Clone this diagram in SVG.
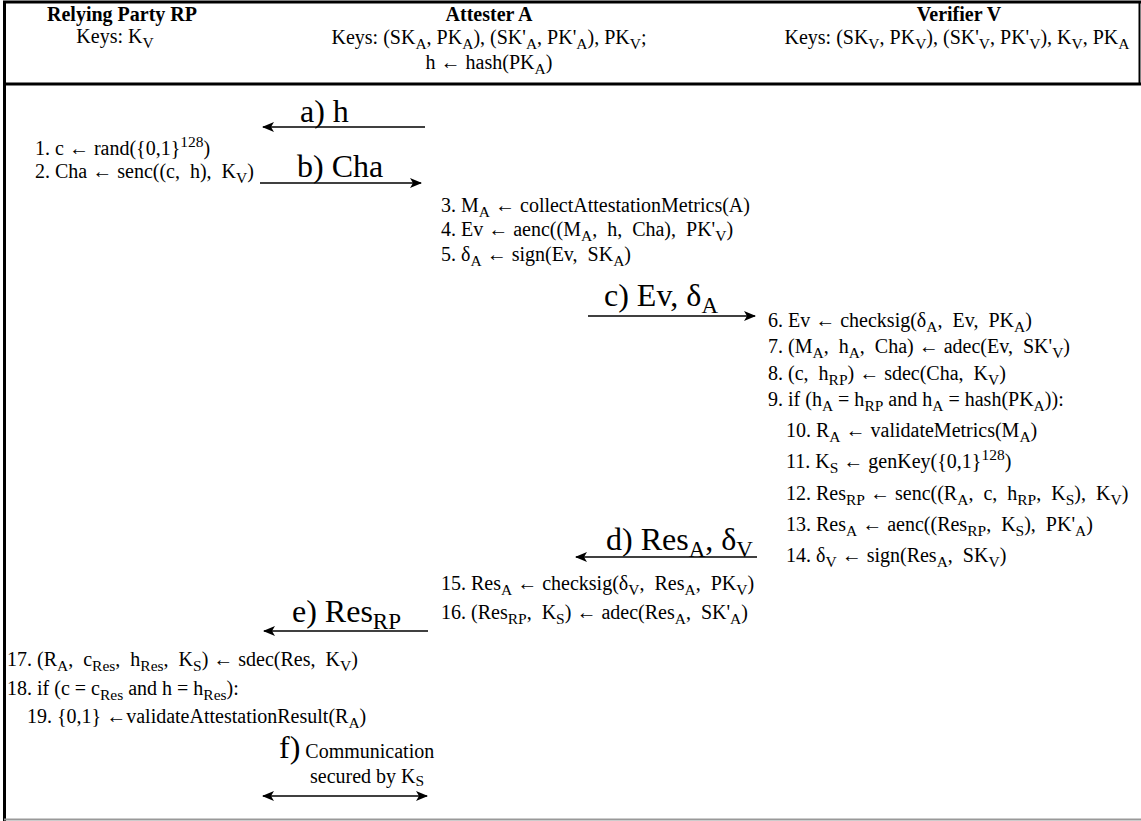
<svg xmlns="http://www.w3.org/2000/svg" width="1141" height="821" viewBox="0 0 1141 821" xml:space="preserve">
<style>
text{font-family:"Liberation Serif","Times New Roman",serif;font-size:20px;fill:#000;white-space:pre}
.b{font-weight:bold}
.s{font-size:15.5px}
.l{font-size:32px}
.ls{font-size:23px}
.ln{stroke:#000;stroke-width:1.6;fill:none}
</style>
<defs>
<marker id="ah" viewBox="0 0 12 10" refX="11" refY="5" markerWidth="12" markerHeight="10" markerUnits="userSpaceOnUse" orient="auto-start-reverse"><path d="M0,0 L12,5 L0,10 L3,5 z" fill="#000"/></marker>
</defs>
<rect width="1141" height="821" fill="#fff"/>
<g id="frame">
<line x1="3" y1="2" x2="1141" y2="2" stroke="#000" stroke-width="3"/>
<line x1="3" y1="84" x2="1141" y2="84" stroke="#000" stroke-width="3"/>
<line x1="1139.5" y1="1" x2="1139.5" y2="85" stroke="#000" stroke-width="2"/>
<line x1="4.5" y1="1" x2="4.5" y2="821" stroke="#000" stroke-width="3"/>
<line x1="4" y1="819.5" x2="1141" y2="819.5" stroke="#999" stroke-width="2"/>
</g>
<g id="rp-header">
<text class="b" x="122" y="21" text-anchor="middle">Relying Party RP</text>
<text x="115" y="43" text-anchor="middle">Keys: K<tspan class="s" dy="5">V</tspan></text>
</g>
<g id="a-header">
<text class="b" x="489" y="21" text-anchor="middle">Attester A</text>
<text x="489" y="44" text-anchor="middle">Keys: (SK<tspan class="s" dy="5">A</tspan><tspan dy="-5">, PK</tspan><tspan class="s" dy="5">A</tspan><tspan dy="-5">), (SK'</tspan><tspan class="s" dy="5">A</tspan><tspan dy="-5">, PK'</tspan><tspan class="s" dy="5">A</tspan><tspan dy="-5">), PK</tspan><tspan class="s" dy="5">V</tspan><tspan dy="-5">;</tspan></text>
<text x="489" y="69" text-anchor="middle">h ← hash(PK<tspan class="s" dy="5">A</tspan><tspan dy="-5">)</tspan></text>
</g>
<g id="v-header">
<text class="b" x="959" y="21" text-anchor="middle">Verifier V</text>
<text x="957" y="44" text-anchor="middle">Keys: (SK<tspan class="s" dy="5">V</tspan><tspan dy="-5">, PK</tspan><tspan class="s" dy="5">V</tspan><tspan dy="-5">), (SK'</tspan><tspan class="s" dy="5">V</tspan><tspan dy="-5">, PK'</tspan><tspan class="s" dy="5">V</tspan><tspan dy="-5">), K</tspan><tspan class="s" dy="5">V</tspan><tspan dy="-5">, PK</tspan><tspan class="s" dy="5">A</tspan></text>
</g>
<g id="connectors">
<line class="ln" x1="425" y1="127" x2="263" y2="127" marker-end="url(#ah)"/>
<line class="ln" x1="260" y1="183" x2="421" y2="183" marker-end="url(#ah)"/>
<line class="ln" x1="588" y1="316" x2="755" y2="316" marker-end="url(#ah)"/>
<line class="ln" x1="757" y1="557" x2="576" y2="557" marker-end="url(#ah)"/>
<line class="ln" x1="428" y1="631" x2="264" y2="631" marker-end="url(#ah)"/>
<line class="ln" x1="263" y1="796" x2="427" y2="796" marker-start="url(#ah)" marker-end="url(#ah)"/>
</g>
<g id="labels">
<text class="l" x="300" y="122">a) h</text>
<text class="l" x="297" y="177">b) Cha</text>
<text class="l" x="604" y="306">c) Ev, δ<tspan class="ls" dy="7">A</tspan></text>
<text class="l" x="606" y="550">d) Res<tspan class="ls" dy="7">A</tspan><tspan dy="-7">, δ</tspan><tspan class="ls" dy="7">V</tspan></text>
<text class="l" x="292" y="622">e) Res<tspan class="ls" dy="7">RP</tspan></text>
<text x="279" y="758"><tspan class="l">f)</tspan><tspan> Communication</tspan></text>
<text x="310" y="783">secured by K<tspan class="s" dy="3">S</tspan></text>
</g>
<g id="rp-steps">
<text x="35" y="155">1. c ← rand({0,1}<tspan class="s" dy="-8">128</tspan><tspan dy="8">)</tspan></text>
<text x="35" y="178">2. Cha ← senc((c,  h),  K<tspan class="s" dy="5">V</tspan><tspan dy="-5">)</tspan></text>
<text x="7" y="666">17. (R<tspan class="s" dy="5">A</tspan><tspan dy="-5">,  c</tspan><tspan class="s" dy="5">Res</tspan><tspan dy="-5">,  h</tspan><tspan class="s" dy="5">Res</tspan><tspan dy="-5">,  K</tspan><tspan class="s" dy="5">S</tspan><tspan dy="-5">) ← sdec(Res,  K</tspan><tspan class="s" dy="5">V</tspan><tspan dy="-5">)</tspan></text>
<text x="7" y="695">18. if (c = c<tspan class="s" dy="5">Res</tspan><tspan dy="-5"> and h = h</tspan><tspan class="s" dy="5">Res</tspan><tspan dy="-5">):</tspan></text>
<text x="27" y="723">19. {0,1} ←validateAttestationResult(R<tspan class="s" dy="5">A</tspan><tspan dy="-5">)</tspan></text>
</g>
<g id="a-steps">
<text x="441" y="212">3. M<tspan class="s" dy="5">A</tspan><tspan dy="-5"> ← collectAttestationMetrics(A)</tspan></text>
<text x="441" y="236">4. Ev ← aenc((M<tspan class="s" dy="5">A</tspan><tspan dy="-5">,  h,  Cha),  PK'</tspan><tspan class="s" dy="5">V</tspan><tspan dy="-5">)</tspan></text>
<text x="441" y="261">5. δ<tspan class="s" dy="5">A</tspan><tspan dy="-5"> ← sign(Ev,  SK</tspan><tspan class="s" dy="5">A</tspan><tspan dy="-5">)</tspan></text>
<text x="441" y="590">15. Res<tspan class="s" dy="5">A</tspan><tspan dy="-5"> ← checksig(δ</tspan><tspan class="s" dy="5">V</tspan><tspan dy="-5">,  Res</tspan><tspan class="s" dy="5">A</tspan><tspan dy="-5">,  PK</tspan><tspan class="s" dy="5">V</tspan><tspan dy="-5">)</tspan></text>
<text x="441" y="619">16. (Res<tspan class="s" dy="5">RP</tspan><tspan dy="-5">,  K</tspan><tspan class="s" dy="5">S</tspan><tspan dy="-5">) ← adec(Res</tspan><tspan class="s" dy="5">A</tspan><tspan dy="-5">,  SK'</tspan><tspan class="s" dy="5">A</tspan><tspan dy="-5">)</tspan></text>
</g>
<g id="v-steps">
<text x="768" y="327">6. Ev ← checksig(δ<tspan class="s" dy="5">A</tspan><tspan dy="-5">,  Ev,  PK</tspan><tspan class="s" dy="5">A</tspan><tspan dy="-5">)</tspan></text>
<text x="768" y="353">7. (M<tspan class="s" dy="5">A</tspan><tspan dy="-5">,  h</tspan><tspan class="s" dy="5">A</tspan><tspan dy="-5">,  Cha) ← adec(Ev,  SK'</tspan><tspan class="s" dy="5">V</tspan><tspan dy="-5">)</tspan></text>
<text x="768" y="380">8. (c,  h<tspan class="s" dy="5">RP</tspan><tspan dy="-5">) ← sdec(Cha,  K</tspan><tspan class="s" dy="5">V</tspan><tspan dy="-5">)</tspan></text>
<text x="768" y="406">9. if (h<tspan class="s" dy="5">A</tspan><tspan dy="-5"> = h</tspan><tspan class="s" dy="5">RP</tspan><tspan dy="-5"> and h</tspan><tspan class="s" dy="5">A</tspan><tspan dy="-5"> = hash(PK</tspan><tspan class="s" dy="5">A</tspan><tspan dy="-5">)):</tspan></text>
<text x="786" y="437">10. R<tspan class="s" dy="5">A</tspan><tspan dy="-5"> ← validateMetrics(M</tspan><tspan class="s" dy="5">A</tspan><tspan dy="-5">)</tspan></text>
<text x="786" y="468">11. K<tspan class="s" dy="5">S</tspan><tspan dy="-5"> ← genKey({0,1}</tspan><tspan class="s" dy="-8">128</tspan><tspan dy="8">)</tspan></text>
<text x="786" y="500">12. Res<tspan class="s" dy="5">RP</tspan><tspan dy="-5"> ← senc((R</tspan><tspan class="s" dy="5">A</tspan><tspan dy="-5">,  c,  h</tspan><tspan class="s" dy="5">RP</tspan><tspan dy="-5">,  K</tspan><tspan class="s" dy="5">S</tspan><tspan dy="-5">),  K</tspan><tspan class="s" dy="5">V</tspan><tspan dy="-5">)</tspan></text>
<text x="786" y="531">13. Res<tspan class="s" dy="5">A</tspan><tspan dy="-5"> ← aenc((Res</tspan><tspan class="s" dy="5">RP</tspan><tspan dy="-5">,  K</tspan><tspan class="s" dy="5">S</tspan><tspan dy="-5">),  PK'</tspan><tspan class="s" dy="5">A</tspan><tspan dy="-5">)</tspan></text>
<text x="786" y="562">14. δ<tspan class="s" dy="5">V</tspan><tspan dy="-5"> ← sign(Res</tspan><tspan class="s" dy="5">A</tspan><tspan dy="-5">,  SK</tspan><tspan class="s" dy="5">V</tspan><tspan dy="-5">)</tspan></text>
</g>
</svg>
